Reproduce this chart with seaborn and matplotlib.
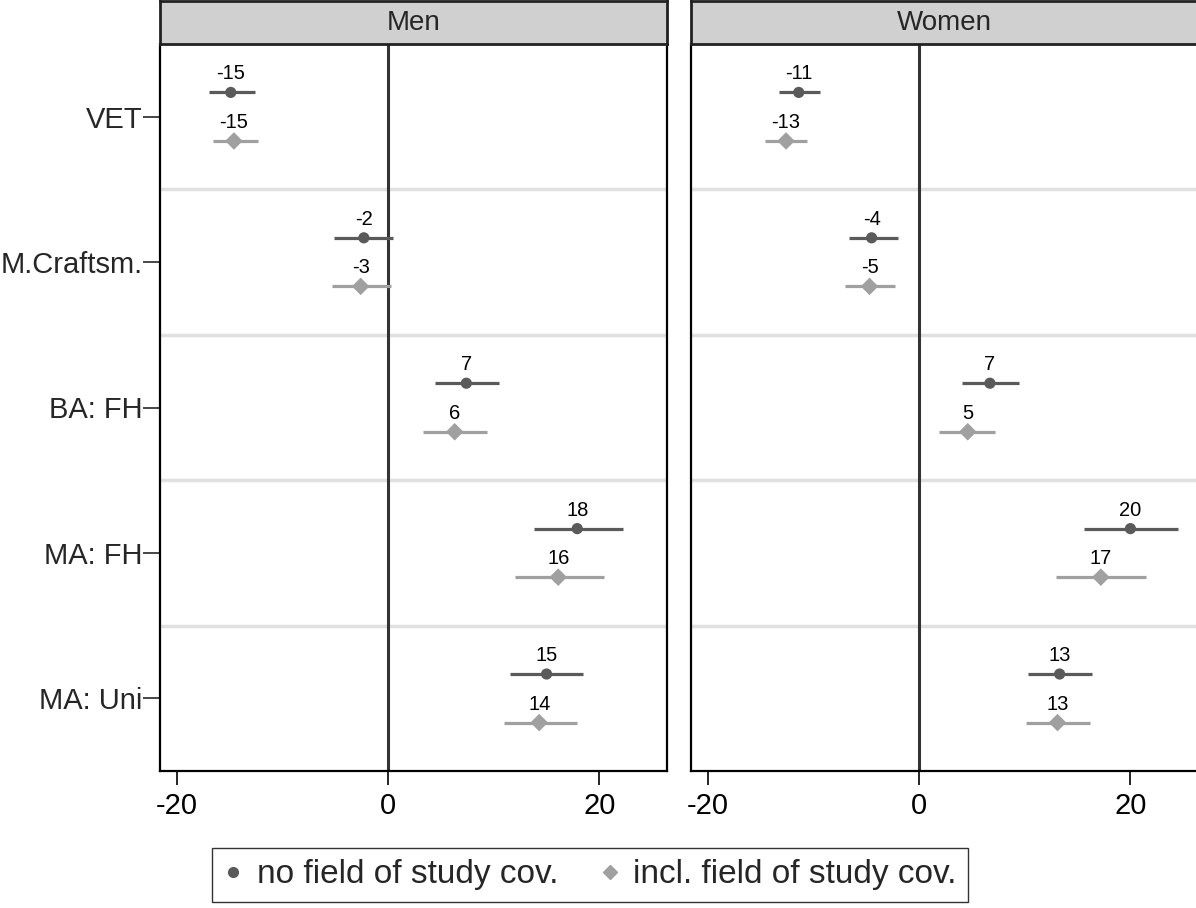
import matplotlib
matplotlib.use("Agg")
import matplotlib.pyplot as plt
import seaborn as sns
import pandas as pd
import numpy as np
from matplotlib.lines import Line2D

categories = ["VET", "M.Craftsm.", "BA: FH", "MA: FH", "MA: Uni"]
panels = ["Men", "Women"]
series = ["no field of study cov.", "incl. field of study cov."]

# Men
men_no_est = [-14.9, -2.3, 7.4, 17.9, 15.0]
men_no_lo = [-17.0, -5.1, 4.4, 13.8, 11.5]
men_no_hi = [-12.6, 0.5, 10.5, 22.2, 18.4]
men_incl_est = [-14.6, -2.6, 6.3, 16.1, 14.3]
men_incl_lo = [-16.6, -5.3, 3.3, 12.0, 11.0]
men_incl_hi = [-12.3, 0.3, 9.4, 20.4, 17.9]
# Women
women_no_est = [-11.4, -4.5, 6.7, 20.0, 13.3]
women_no_lo = [-13.3, -6.6, 4.1, 15.6, 10.3]
women_no_hi = [-9.4, -2.0, 9.5, 24.5, 16.4]
women_incl_est = [-12.6, -4.7, 4.6, 17.2, 13.1]
women_incl_lo = [-14.6, -7.0, 1.9, 13.0, 10.1]
women_incl_hi = [-10.6, -2.3, 7.2, 21.5, 16.2]

rows = []
data = {
    ("Men", series[0]): (men_no_est, men_no_lo, men_no_hi),
    ("Men", series[1]): (men_incl_est, men_incl_lo, men_incl_hi),
    ("Women", series[0]): (women_no_est, women_no_lo, women_no_hi),
    ("Women", series[1]): (women_incl_est, women_incl_lo, women_incl_hi),
}
for (p, s), (est, lo, hi) in data.items():
    for c, e, l, h in zip(categories, est, lo, hi):
        rows.append(dict(panel=p, series=s, category=c, est=e, lo=l, hi=h))
df = pd.DataFrame(rows)

sns.set_style("white")
plt.rcParams["font.family"] = ["Liberation Sans", "DejaVu Sans"]

colors = {series[0]: "#5a5a5a", series[1]: "#a0a0a0"}
markers = {series[0]: "o", series[1]: "D"}
offsets = {series[0]: -0.167, series[1]: 0.167}

W, H = 1196, 908
fig = plt.figure(figsize=(W / 100, H / 100), dpi=100)

def fx(px):
    return px / W

def fy(py):
    return (H - py) / H

ax_top, ax_bot = 44, 771
lefts = {"Men": 160, "Women": 691}
pw = 507

df["cat_idx"] = df["category"].map({c: i + 1 for i, c in enumerate(categories)})
df["ypos"] = df["cat_idx"] + df["series"].map(offsets)

for p in panels:
    ax = fig.add_axes([fx(lefts[p]), fy(ax_bot), pw / W, (ax_bot - ax_top) / H])
    sub = df[df["panel"] == p]
    for b in np.arange(1.5, len(categories), 1.0):
        ax.axhline(b, color="#e0e0e0", lw=2.5, zorder=0)
    ax.axvline(0, color="#333333", lw=2.2, zorder=1)
    for s in series:
        ss = sub[sub["series"] == s]
        ax.hlines(ss["ypos"], ss["lo"], ss["hi"], color=colors[s], lw=2.3, zorder=2)
    sns.scatterplot(data=sub, x="est", y="ypos", hue="series", style="series",
                    palette=colors, markers=markers, hue_order=series, style_order=series,
                    size="series", sizes={series[0]: 65, series[1]: 80},
                    edgecolor="none", linewidth=0, ax=ax, legend=False, zorder=3)
    for _, r in sub.iterrows():
        ax.annotate(f"{int(np.round(r['est']))}", (r["est"], r["ypos"]),
                    xytext=(0, 6.5), textcoords="offset points",
                    ha="center", va="bottom", fontsize=14.5, color="black")
    ax.set_xlim(-21.6, 26.4)
    ax.set_ylim(len(categories) + 0.5, 0.5)
    ax.set_xticks([-20, 0, 20])
    ax.set_xticklabels(["-20", "0", "20"])
    ax.tick_params(axis="x", direction="out", length=10, width=1.2, labelsize=21, pad=5,
                   bottom=True, colors="black")
    if p == "Men":
        ax.set_yticks(range(1, len(categories) + 1))
        ax.set_yticklabels(categories)
        ax.tick_params(axis="y", direction="out", length=12, width=1.2, labelsize=21, pad=0.5,
                       left=True)
    else:
        ax.set_yticks([])
    ax.set_xlabel("")
    ax.set_ylabel("")
    for side in ["left", "right", "bottom"]:
        ax.spines[side].set_visible(True)
        ax.spines[side].set_color("black")
        ax.spines[side].set_linewidth(1.6)
    ax.spines["top"].set_visible(False)
    sax = fig.add_axes([fx(lefts[p]), fy(44), pw / W, 43 / H])
    sax.set_facecolor("#d0d0d0")
    sax.set_xticks([])
    sax.set_yticks([])
    for side in sax.spines.values():
        side.set_visible(True)
        side.set_color("#222222")
        side.set_linewidth(2)
    sax.text(0.5, 0.5, p, ha="center", va="center", fontsize=20, transform=sax.transAxes)

handles = [Line2D([], [], marker=markers[s], linestyle="none", color=colors[s],
                  markersize=7) for s in series]
leg = fig.legend(handles, series, loc="center", bbox_to_anchor=(fx(590), fy(875)),
                 ncol=2, fontsize=24, frameon=True, fancybox=False, edgecolor="black",
                 handletextpad=0.4, columnspacing=1.25, borderpad=0.35, handlelength=0.6)
leg.get_frame().set_linewidth(1.0)

fig.savefig("out.png", dpi=100)
